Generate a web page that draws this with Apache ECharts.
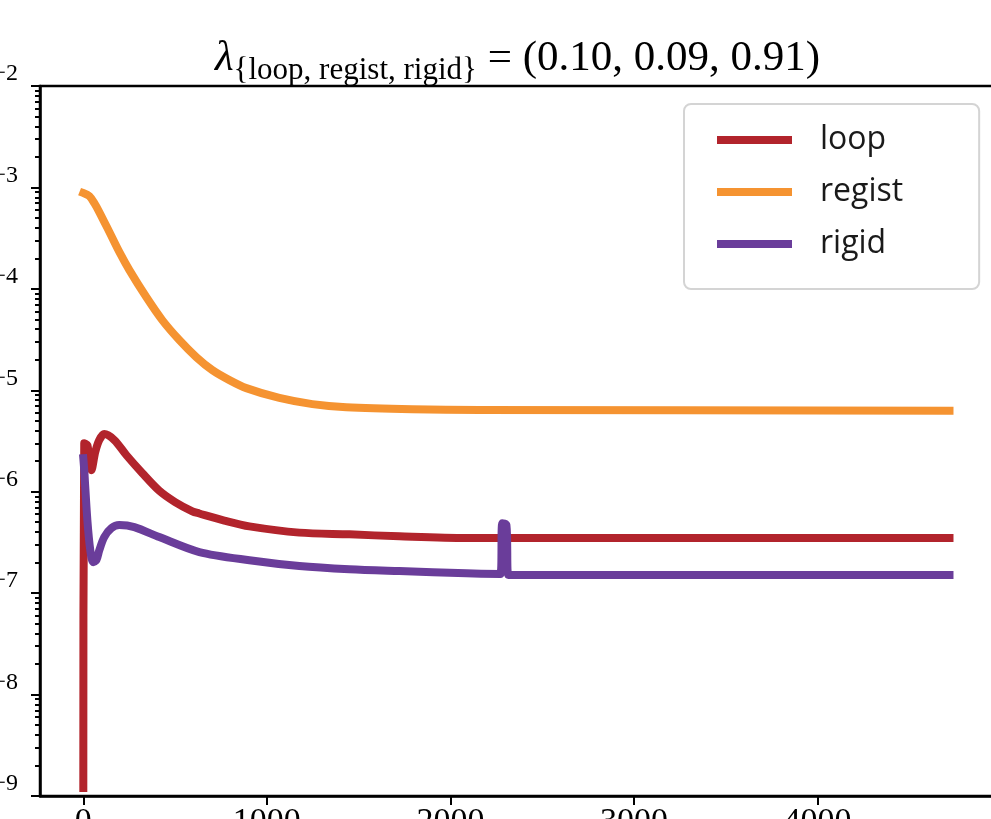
<!DOCTYPE html>
<html>
<head>
<meta charset="utf-8">
<script src="https://cdn.jsdelivr.net/npm/echarts@6/dist/echarts.min.js"></script>
<style>
  html, body { margin: 0; padding: 0; background: #fff; }
  #chart { width: 991px; height: 819px; }
</style>
</head>
<body>
<div id="chart"></div>
<script>
// series names / colours
var seriesNames = ['loop', 'regist', 'rigid'];
var seriesColors = ['#b2242c', '#f59331', '#6a3d9a'];

// loss curves (step, value)
var loopSteps  = [0, 5, 22, 44, 65, 87, 114, 169, 234, 322, 414, 500, 594, 632, 768, 905, 1177, 1450, 1722, 2087, 4719];
var loopValues = [1.2e-9, 3.0e-6, 2.88e-6, 1.63e-6, 2.46e-6, 3.23e-6, 3.70e-6, 3.23e-6, 2.30e-6, 1.52e-6, 1.02e-6,
                  7.9e-7, 6.4e-7, 6.1e-7, 5.2e-7, 4.55e-7, 3.95e-7, 3.8e-7, 3.63e-7, 3.49e-7, 3.49e-7];

var registSteps  = [0, 33, 60, 87, 142, 196, 251, 343, 430, 523, 616, 703, 796, 888, 1068, 1248, 1433, 1793, 2158, 4719];
var registValues = [8.8e-4, 8.2e-4, 7.0e-4, 5.72e-4, 3.63e-4, 2.31e-4, 1.53e-4, 8.3e-5, 4.92e-5, 3.13e-5, 2.12e-5,
                    1.58e-5, 1.26e-5, 1.05e-5, 8.4e-6, 7.3e-6, 6.8e-6, 6.5e-6, 6.4e-6, 6.3e-6];

var rigidSteps  = [0, 5, 22, 38, 54, 71, 87, 114, 153, 196, 278, 414, 632, 905, 1177, 1450, 1722, 2087, 2272, 2283, 2305, 2316, 4719];
var rigidValues = [2.14e-6, 1.63e-6, 5.25e-7, 2.65e-7, 2.02e-7, 2.11e-7, 2.65e-7, 3.57e-7, 4.37e-7, 4.69e-7, 4.48e-7,
                   3.57e-7, 2.54e-7, 2.11e-7, 1.85e-7, 1.72e-7, 1.65e-7, 1.57e-7, 1.54e-7, 4.9e-7, 4.69e-7, 1.51e-7, 1.51e-7];

// axis ticks
var xTicks = [0, 1000, 2000, 3000, 4000];
var yTicks = [1e-9, 1e-8, 1e-7, 1e-6, 1e-5, 1e-4, 1e-3, 1e-2];
var yMinorTicks = [];
for (var k = -9; k < -2; k++) {
  for (var m = 2; m <= 9; m++) yMinorTicks.push(m * Math.pow(10, k));
}

var serif = "'Liberation Serif', 'DejaVu Serif', serif";

function pairs(steps, values) {
  return steps.map(function (s, i) { return [s, values[i]]; });
}

var chart = echarts.init(document.getElementById('chart'));

var option = {
  animation: false,
  backgroundColor: '#fff',
  title: {
    text: '{l|λ}{loop, regist, rigid}{m| = (0.10, 0.09, 0.91)}',
    left: 215,
    top: 37,
    padding: 0,
    textStyle: {
      fontFamily: serif,
      fontSize: 31,
      fontWeight: 'normal',
      color: '#000',
      rich: {
        l: { fontFamily: serif, fontSize: 43, fontStyle: 'italic', color: '#000', verticalAlign: 'top', lineHeight: 67 },
        m: { fontFamily: serif, fontSize: 43, color: '#000', verticalAlign: 'top', lineHeight: 67 }
      }
    }
  },
  legend: {
    data: seriesNames,
    orient: 'vertical',
    left: 684,
    top: 104,
    padding: [19, 76, 28, 33],
    itemGap: 18,
    itemWidth: 75,
    itemHeight: 8,
    icon: 'rect',
    backgroundColor: 'rgba(255,255,255,0.8)',
    borderColor: '#d4d4d4',
    borderWidth: 2,
    borderRadius: 7,
    textStyle: {
      fontFamily: "'Open Sans', 'Noto Sans', sans-serif",
      fontSize: 32,
      color: '#1a1a1a',
      lineHeight: 34,
      padding: [0, 0, 0, 23]
    }
  },
  grid: [
    { left: 40, right: -2, top: 86, bottom: 23, outerBoundsMode: 'none', containLabel: false,
      show: true, borderColor: '#000', borderWidth: 2.5, backgroundColor: 'transparent' },
    { left: 40, right: -2, top: 86, bottom: 23, outerBoundsMode: 'none', containLabel: false }
  ],
  xAxis: [
    {
      gridIndex: 0,
      type: 'value',
      position: 'bottom',
      min: -236,
      max: 4956,
      axisLine: { show: true, onZero: false, lineStyle: { color: '#000', width: 2.5 } },
      axisTick: { show: true, customValues: xTicks, length: 9, lineStyle: { color: '#000', width: 2 } },
      axisLabel: {
        customValues: xTicks, margin: 9, fontFamily: serif, fontSize: 34, color: '#000',
        formatter: function (v) { return String(v); }
      },
      splitLine: { show: false }
    },
    { gridIndex: 1, type: 'value', min: -236, max: 4956, show: false, axisLine: { onZero: false } }
  ],
  yAxis: [
    {
      gridIndex: 0,
      type: 'log',
      logBase: 10,
      position: 'left',
      min: 1e-9,
      max: 1e-2,
      axisLine: { show: true, onZero: false, lineStyle: { color: '#000', width: 2.5 } },
      axisTick: { show: true, customValues: yTicks, length: 9, lineStyle: { color: '#000', width: 2 } },
      axisLabel: {
        customValues: yTicks,
        margin: 22,
        formatter: function (v) {
          var e = Math.round(Math.log10(v));
          return '{b|10}{e|\u2212' + Math.abs(e) + '}';
        },
        rich: {
          b: { fontFamily: serif, fontSize: 34, color: '#000', lineHeight: 48 },
          e: { fontFamily: serif, fontSize: 24, color: '#000', verticalAlign: 'top' }
        }
      },
      splitLine: { show: false },
      minorSplitLine: { show: false }
    },
    {
      // second copy of the log axis, only for the minor ticks
      gridIndex: 1,
      type: 'log',
      logBase: 10,
      position: 'left',
      min: 1e-9,
      max: 1e-2,
      axisLine: { show: false, onZero: false },
      axisTick: { show: true, customValues: yMinorTicks, length: 5, lineStyle: { color: '#000', width: 2 } },
      axisLabel: { show: false },
      splitLine: { show: false }
    }
  ],
  series: [
    { name: 'loop', data: pairs(loopSteps, loopValues) },
    { name: 'regist', data: pairs(registSteps, registValues) },
    { name: 'rigid', data: pairs(rigidSteps, rigidValues) }
  ].map(function (s, i) {
    return {
      name: s.name,
      type: 'line',
      xAxisIndex: 0,
      yAxisIndex: 0,
      data: s.data,
      showSymbol: false,
      symbol: 'none',
      smooth: 0.3,
      color: seriesColors[i],
      itemStyle: { color: seriesColors[i] },
      lineStyle: { color: seriesColors[i], width: 8, cap: 'square', join: 'round' },
      z: 2 + i
    };
  })
};

chart.setOption(option);
</script>
</body>
</html>
